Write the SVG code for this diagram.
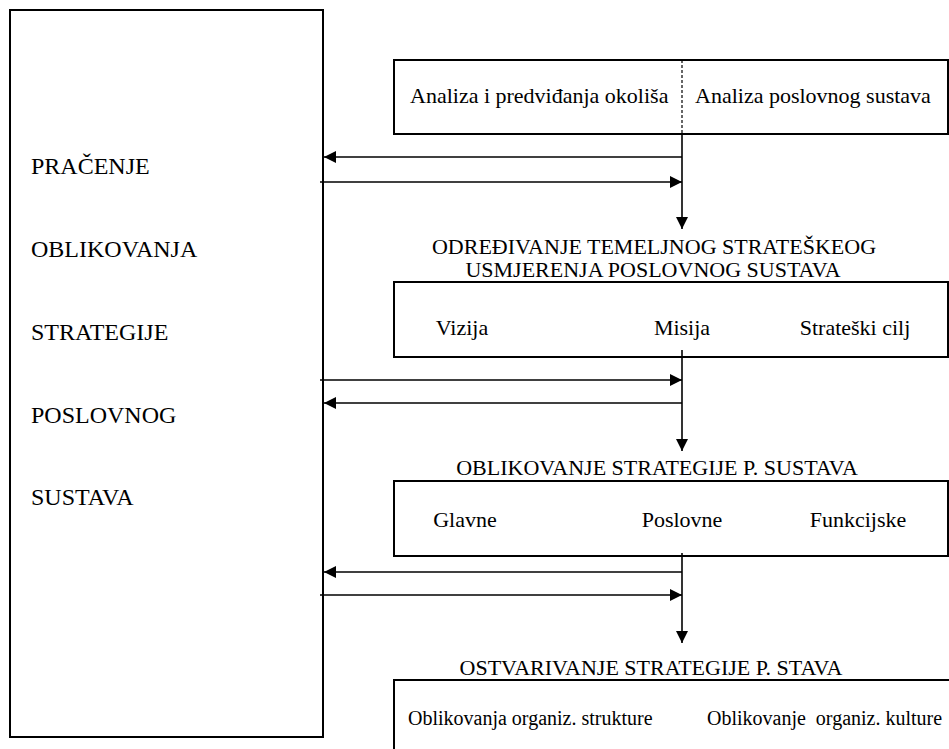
<svg xmlns="http://www.w3.org/2000/svg" width="949" height="749" viewBox="0 0 949 749">
<defs>
<style>
.box{fill:none;stroke:#000;stroke-width:2}
.ln{fill:none;stroke:#000;stroke-width:1.6}
.dash{fill:none;stroke:#000;stroke-width:1.2;stroke-dasharray:3,2}
.big{font-size:24px;fill:#000}
.t{font-size:22px;fill:#000}
.s{font-size:20px;fill:#000}
</style>
<marker id="ah" markerWidth="12" markerHeight="12" refX="10" refY="5" orient="auto" markerUnits="userSpaceOnUse" viewBox="0 0 10 10">
<path d="M0,0 L10,5 L0,10 Z" fill="#000"/>
</marker>
</defs>
<rect width="949" height="749" fill="#fff"/>
<g font-family="'Liberation Serif', 'DejaVu Serif', 'Times New Roman', serif">
<g id="monitoring">
<rect class="box" x="10" y="10" width="313" height="727"/>
<text class="big" x="31" y="174">PRAČENJE</text>
<text class="big" x="31" y="257">OBLIKOVANJA</text>
<text class="big" x="31" y="340">STRATEGIJE</text>
<text class="big" x="31" y="423">POSLOVNOG</text>
<text class="big" x="31" y="505">SUSTAVA</text>
</g>
<g id="analysis">
<rect class="box" x="394" y="60" width="554" height="74"/>
<line class="dash" x1="682" y1="60" x2="682" y2="134"/>
<text class="t" x="410" y="103">Analiza i predviđanja okoliša</text>
<text class="t" x="695" y="103">Analiza poslovnog sustava</text>
</g>
<g id="direction">
<text class="t" x="654" y="254" text-anchor="middle" font-size="21.5">ODREĐIVANJE TEMELJNOG STRATEŠKEOG</text>
<text class="t" x="653" y="277" text-anchor="middle">USMJERENJA POSLOVNOG SUSTAVA</text>
<rect class="box" x="394" y="282" width="554" height="75"/>
<text class="t" x="462" y="335" text-anchor="middle">Vizija</text>
<text class="t" x="682" y="335" text-anchor="middle">Misija</text>
<text class="t" x="855" y="335" text-anchor="middle">Strateški cilj</text>
</g>
<g id="formulation">
<text class="t" x="657" y="475" text-anchor="middle">OBLIKOVANJE STRATEGIJE P. SUSTAVA</text>
<rect class="box" x="394" y="481" width="554" height="75"/>
<text class="t" x="465" y="527" text-anchor="middle">Glavne</text>
<text class="t" x="682" y="527" text-anchor="middle">Poslovne</text>
<text class="t" x="858" y="527" text-anchor="middle">Funkcijske</text>
</g>
<g id="implementation">
<text class="t" x="651" y="675" text-anchor="middle">OSTVARIVANJE STRATEGIJE P. STAVA</text>
<rect class="box" x="394" y="680" width="580" height="100"/>
<text class="s" x="408" y="725">Oblikovanja organiz. strukture</text>
<text class="s" x="707" y="725" xml:space="preserve">Oblikovanje  organiz. kulture</text>
</g>
</g>
<g id="connectors">
<line class="ln" x1="682" y1="157" x2="324" y2="157" marker-end="url(#ah)"/>
<line class="ln" x1="320" y1="182" x2="682" y2="182" marker-end="url(#ah)"/>
<line class="ln" x1="682" y1="134" x2="682" y2="229" marker-end="url(#ah)"/>
<line class="ln" x1="320" y1="380" x2="682" y2="380" marker-end="url(#ah)"/>
<line class="ln" x1="682" y1="403" x2="324" y2="403" marker-end="url(#ah)"/>
<line class="ln" x1="682" y1="350" x2="682" y2="451" marker-end="url(#ah)"/>
<line class="ln" x1="682" y1="572" x2="324" y2="572" marker-end="url(#ah)"/>
<line class="ln" x1="320" y1="595" x2="682" y2="595" marker-end="url(#ah)"/>
<line class="ln" x1="682" y1="553" x2="682" y2="643" marker-end="url(#ah)"/>
</g>
</svg>
